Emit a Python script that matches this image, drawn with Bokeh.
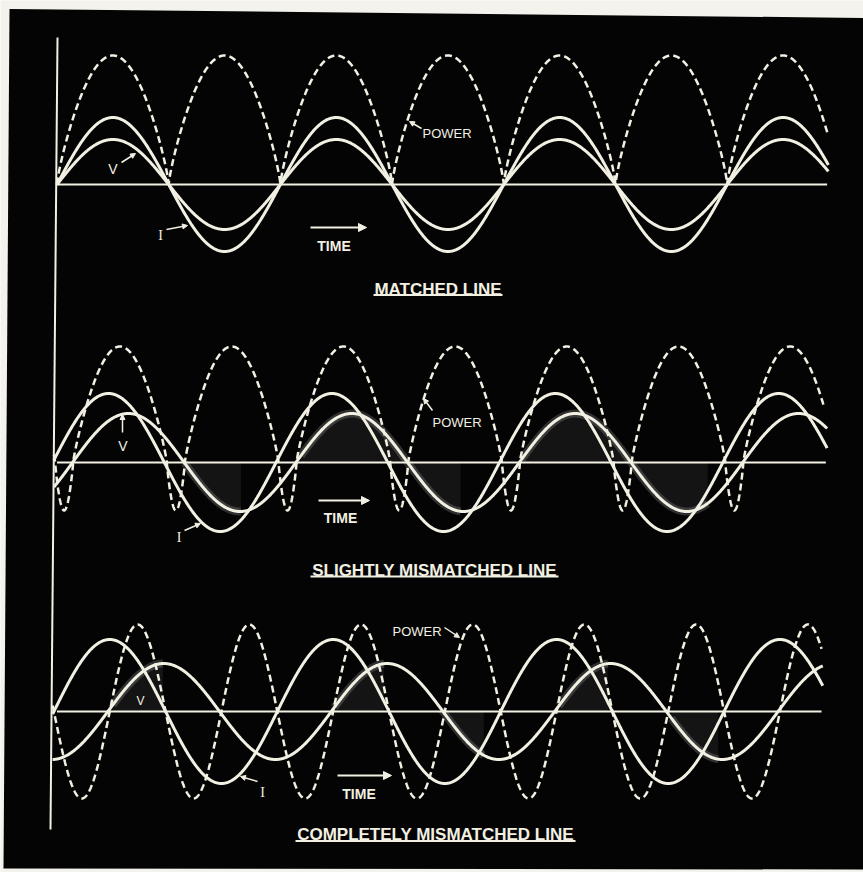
import numpy as np
from bokeh.plotting import figure
from bokeh.models import Range1d, Label, Arrow, NormalHead
from bokeh.embed import file_html
from bokeh.resources import INLINE

# ---------------- data ----------------
panel_titles = ["MATCHED LINE", "SLIGHTLY MISMATCHED LINE", "COMPLETELY MISMATCHED LINE"]
baseline = [688, 410, 161]            # zero line of each panel (chart units, up = positive)
i_amp = [67, 69, 72]                  # current amplitude
v_amp = [45, 49, 48]                  # voltage amplitude
i_phase = [0, 7, 5]                   # degrees
v_phase = [0, -25, -82]               # degrees
p_peak = [129, 116, 87]               # positive power lobe height
p_dip = [0, 48, 87]                   # negative power lobe depth
p_pos_width = [180, 151, 90]          # width (deg) of positive lobe in each 180-deg power cycle
p_start = [0, 26, 85]                 # time (deg) where a positive lobe begins
p_shape = [0.8, 0.85, 1.0]            # lobe roundness
t_begin = [0, -5, -7]                 # time (deg) where the traces start
t_finish = [1243, 1241, 1234]         # time (deg) where V / I end
p_finish = [1242, 1235, 1232]         # time (deg) where power ends
shade = [[],
         [(205, 297), (393, 651), (748, 1049)],
         [(90, 171), (447, 527), (619, 688), (808, 888), (990, 1066)]]

CREAM = "#f2f0e2"
BG = "#040404"
PAPER = "#f3f2ec"

# pixel helpers for annotation placement
K = 223.4 / 360.0
X0 = 56.5
def tx(X):
    return (X - X0) / K
def py(Y):
    return 872 - Y

p = figure(width=863, height=872, x_range=Range1d(tx(0), tx(863)), y_range=Range1d(0, 872),
           output_backend="svg", toolbar_location=None, min_border=0,
           x_axis_location=None, y_axis_location=None)
p.grid.visible = False
p.background_fill_color = PAPER
p.border_fill_color = PAPER
p.outline_line_color = None

# the black card (slightly rotated photo)
p.patch([tx(9), tx(870), tx(870), tx(3)], [py(8.5), py(17.5), py(869), py(868)],
        fill_color=BG, line_color=None)


def power(t, k):
    u = np.mod(t - p_start[k], 180.0)
    wp = p_pos_width[k]
    wn = 180.0 - wp
    out = np.zeros_like(u)
    pos = u < wp
    out[pos] = p_peak[k] * np.clip(np.sin(np.pi * u[pos] / wp), 0, 1) ** p_shape[k]
    if wn > 0:
        neg = ~pos
        out[neg] = -p_dip[k] * np.clip(np.sin(np.pi * (u[neg] - wp) / wn), 0, 1) ** p_shape[k]
    return out


for k in range(3):
    b = baseline[k]
    t = np.linspace(t_begin[k], t_finish[k], 1600)
    cur = b + i_amp[k] * np.sin(np.radians(t + i_phase[k]))
    vol = b + v_amp[k] * np.sin(np.radians(t + v_phase[k]))
    tp = np.linspace(t_begin[k], p_finish[k], 2400)
    pw = b + power(tp, k)

    # shaded power areas
    for (a, e) in shade[k]:
        m = (t >= a) & (t <= e)
        p.varea(x=t[m], y1=np.full(m.sum(), b), y2=vol[m], fill_color="#3a3a3a", fill_alpha=0.3)
        p.line(t[m], vol[m], line_color="#b0b0b0", line_width=8, line_alpha=0.25)

    # zero line
    p.segment(x0=[tx(X0)], y0=[b], x1=[t_finish[k] - 2], y1=[b], line_color=CREAM, line_width=2)
    p.line(t, cur, line_color=CREAM, line_width=3, line_join="round")
    p.line(t, vol, line_color=CREAM, line_width=3, line_join="round")
    p.line(tp, pw, line_color=CREAM, line_width=2.5, line_dash="7 4")

# left vertical axis line
p.segment(x0=[tx(57)], y0=[py(37)], x1=[tx(50)], y1=[py(829)], line_color=CREAM, line_width=2)


def label(text, X, Y, size="13px", style="normal", align="center", font="Liberation Sans"):
    p.add_layout(Label(x=tx(X), y=py(Y), text=text, text_align=align, text_baseline="alphabetic",
                       text_font_size=size, text_font_style=style, text_color=CREAM, text_font=font))


def arrow(X1, Y1, X2, Y2, size=6, width=1.5):
    p.add_layout(Arrow(end=NormalHead(size=size, fill_color=CREAM, line_color=CREAM, line_width=1),
                       x_start=tx(X1), y_start=py(Y1), x_end=tx(X2), y_end=py(Y2),
                       line_color=CREAM, line_width=width))


# titles with underlines
title_pos = [(437.5, 289, 373, 502, 294.5), (434, 570, 310, 558, 576), (435, 834, 295, 575, 840.5)]
for k, (cx, by, ux0, ux1, uy) in enumerate(title_pos):
    label(panel_titles[k], cx, by, size="17px", style="bold")
    p.segment(x0=[tx(ux0)], y0=[py(uy)], x1=[tx(ux1)], y1=[py(uy)], line_color=CREAM, line_width=2)

# panel 1 labels
label("POWER", 422, 133, align="left")
arrow(421, 128, 409, 121, size=5)
label("V", 112.5, 168, size="14px")
arrow(121, 162, 135, 153, size=5)
label("I", 160, 235, size="14px", font="Liberation Serif")
arrow(166, 229, 187, 225, size=5)
label("TIME", 333.5, 245, size="14px", style="bold")
arrow(310, 227, 366, 227, size=8, width=2)

# panel 2 labels
label("POWER", 432, 422, align="left")
arrow(432, 410, 423, 398, size=5)
label("V", 122.5, 445, size="14px")
arrow(122, 432, 122, 414, size=5)
label("I", 178.5, 537, size="14px", font="Liberation Serif")
arrow(184, 530, 200, 523, size=5)
label("TIME", 340, 517, size="14px", style="bold")
arrow(318, 500, 369, 500, size=8, width=2)

# panel 3 labels
label("POWER", 392, 631, align="left")
arrow(444, 627, 459, 637, size=5)
label("V", 140, 700, size="12px")
label("I", 262, 792, size="14px", font="Liberation Serif")
arrow(257, 781, 240, 776, size=5)
label("TIME", 358.5, 793, size="14px", style="bold")
arrow(337, 775, 391, 775, size=8, width=2)

open("out.html", "w").write(file_html(p, INLINE))
